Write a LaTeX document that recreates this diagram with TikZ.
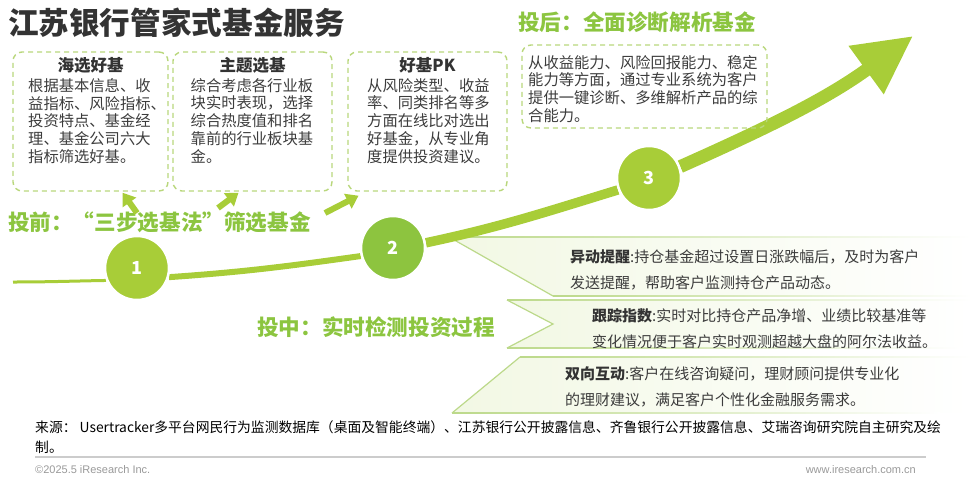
\documentclass[tikz,border=0pt]{standalone}
\usepackage{fontspec}
\setmainfont{Noto Sans CJK SC}
\newfontfamily\latinfont{Liberation Sans}
\usetikzlibrary{arrows.meta,backgrounds}

\definecolor{trailgreen}{HTML}{A8CD38}
\definecolor{stagegreen}{HTML}{8DC43F}
\definecolor{phasegreen}{HTML}{8CC540}
\definecolor{boxline}{HTML}{B9D77C}
\definecolor{bandgreen}{HTML}{BCD98A}
\definecolor{bandfill}{HTML}{F2F8E4}
\definecolor{inkdark}{HTML}{333333}
\definecolor{inkbody}{HTML}{3C3C3C}
\definecolor{footgray}{HTML}{999999}

% fading rule along a band edge
\newcommand{\bandrule}[3]{%
  \shade[left color=bandgreen, middle color=bandgreen, right color=white]
    (#1,#2-0.6) rectangle (#3,#2+0.6);}

\begin{document}
\begin{tikzpicture}[x=1pt, y=1pt,
    dashbox/.style={draw=boxline, dash pattern=on 5pt off 4pt, line width=1.4pt,
                    rounded corners=9pt, inner sep=0pt},
    boxhead/.style={font=\fontsize{16.5}{18}\selectfont\bfseries, text=inkdark, inner sep=0pt},
    boxbody/.style={font=\fontsize{15.3}{17.8}\selectfont, text=inkbody, align=left,
                    inner sep=0pt, anchor=north west},
    stage/.style={circle, draw=white, line width=2.5pt, minimum size=64pt, inner sep=0pt,
                  text=white, font=\fontsize{18}{18}\selectfont\bfseries},
    trail/.style={draw=trailgreen, line cap=butt},
    phase/.style={font=\fontsize{21.6}{22}\selectfont\bfseries, text=phasegreen,
                  anchor=west, inner sep=0pt},
    pointer/.style={draw=trailgreen, line width=6pt, -{Triangle[width=16pt,length=12pt]}},
    bandtext/.style={font=\fontsize{15}{26}\selectfont, text=inkbody, align=left,
                     anchor=west, inner sep=0pt},
    bandline/.style={draw=bandgreen, line width=1.2pt}
  ]
  \useasboundingbox (0,0) rectangle (971,-479);

  % Title
  \node[anchor=west, inner sep=0pt, text=inkdark, font=\fontsize{30.6}{32}\selectfont\bfseries]
    (title) at (8,-23) {江苏银行管家式基金服务};

  % Step boxes
  \node[dashbox, minimum width=155pt, minimum height=139pt] (b1) at (90.5,-121.5) {};
  \node[dashbox, minimum width=159pt, minimum height=139pt] (b2) at (252.5,-121.5) {};
  \node[dashbox, minimum width=159pt, minimum height=139pt] (b3) at (427.5,-121.5) {};
  \node[dashbox, minimum width=245pt, minimum height=83pt] (b4) at (644.5,-86.5) {};

  \node[boxhead] (h1) at (90.5,-65) {海选好基};
  \node[boxbody] (t1) at (28,-78)
    {根据基本信息、收\\益指标、风险指标、\\投资特点、基金经\\理、基金公司六大\\指标筛选好基。};
  \node[boxhead] (h2) at (252.5,-65) {主题选基};
  \node[boxbody] (t2) at (190.5,-78)
    {综合考虑各行业板\\块实时表现，选择\\综合热度值和排名\\靠前的行业板块基\\金。};
  \node[boxhead] (h3) at (427.5,-65) {好基PK};
  \node[boxbody] (t3) at (367,-78)
    {从风险类型、收益\\率、同类排名等多\\方面在线比对选出\\好基金，从专业角\\度提供投资建议。};
  \node[boxbody] (t4) at (528,-55)
    {从收益能力、风险回报能力、稳定\\能力等方面，通过专业系统为客户\\提供一键诊断、多维解析产品的综\\合能力。};

  % Phase labels
  \node[phase] (pre) at (8,-222) {投前：“三步选基法”筛选基金};
  \node[phase] (mid) at (257,-327) {投中：实时检测投资过程};
  \node[phase] (post) at (518,-22) {投后：全面诊断解析基金};

  % Stages
  \node[stage, fill=trailgreen] (c1) at (137,-268) {1};
  \node[stage, fill=stagegreen] (c2) at (393,-248) {2};
  \node[stage, fill=trailgreen] (c3) at (649,-178) {3};
  \coordinate (s0) at (13,-282);
  \coordinate (tip) at (913,-36);

  % Pointers into the boxes
  \coordinate (a1) at (137,-213);
  \coordinate (a2) at (218,-208);
  \coordinate (a3) at (325,-213);
  \draw[pointer] (a1) -- ([xshift=32pt, yshift=-1pt]b1.south);
  \draw[pointer] (a2) -- ([xshift=-14pt, yshift=-1pt]b2.south);
  \draw[pointer] (a3) -- ([xshift=-69pt, yshift=-4pt]b3.south);

  \begin{pgfonlayer}{background}
    % Band 1
    \shade[left color=bandfill, right color=white]
      (449,-237) -- (971,-237) -- (971,-296) -- (553,-296) -- cycle;
    \draw[bandline] (449,-237) -- (553,-296);
    \bandrule{449}{-237}{971}
    \bandrule{553}{-296}{971}
    % Band 2
    \shade[left color=bandfill, right color=white]
      (507,-300) -- (971,-300) -- (971,-348) -- (507,-348) -- (553,-324) -- cycle;
    \draw[bandline] (507,-300) -- (553,-324) -- (507,-348);
    \bandrule{507}{-300}{971}
    \bandrule{507}{-348}{960}
    % Band 3
    \shade[left color=bandfill, right color=white]
      (520,-357) -- (971,-357) -- (971,-413) -- (452,-413) -- cycle;
    \draw[bandline] (520,-357) -- (452,-413);
    \bandrule{520}{-357}{971}
    \bandrule{452}{-413}{940}

    % Growth trail
    \draw[trail, line width=3pt] (s0) to[out=0, in=181] (c1.202);
    \draw[trail, line width=6pt] (c1.-16) to[out=4, in=188] (c2.194);
    \draw[trail, line width=9.5pt] (c2.9) to[out=12, in=197] (c3.201);
    \draw[trail, line width=13pt, -{Triangle[width=56pt,length=58pt]}]
      (c3.20) to[out=24, in=216] (tip);
  \end{pgfonlayer}

  % Band texts
  \node[bandtext] (m1) at (570,-270)
    {{\bfseries\color{inkdark}异动提醒}:持仓基金超过设置日涨跌幅后，及时为客户\\发送提醒，帮助客户监测持仓产品动态。};
  \node[bandtext] (m2) at (592,-329)
    {{\bfseries\color{inkdark}跟踪指数}:实时对比持仓产品净增、业绩比较基准等\\变化情况便于客户实时观测超越大盘的阿尔法收益。};
  \node[bandtext] (m3) at (565,-386.5)
    {{\bfseries\color{inkdark}双向互动}:客户在线咨询疑问，理财顾问提供专业化\\的理财建议，满足客户个性化金融服务需求。};

  % Source and footer
  \node[anchor=west, align=left, inner sep=0pt, text=black, font=\fontsize{13.8}{20}\selectfont]
    (src) at (35,-437)
    {来源： Usertracker多平台网民行为监测数据库（桌面及智能终端）、江苏银行公开披露信息、齐鲁银行公开披露信息、艾瑞咨询研究院自主研究及绘\\制。};
  \coordinate (r0) at (35,-457);
  \coordinate (r1) at (926,-457);
  \draw[footgray!50, line width=1.5pt] (r0) -- (r1);
  \node[anchor=west, inner sep=0pt, text=footgray, font=\latinfont\fontsize{11}{11}\selectfont]
    (copy) at (35,-470) {©2025.5 iResearch Inc.};
  \node[anchor=east, inner sep=0pt, text=footgray, font=\latinfont\fontsize{11}{11}\selectfont]
    (web) at (916,-470) {www.iresearch.com.cn};
\end{tikzpicture}
\end{document}
